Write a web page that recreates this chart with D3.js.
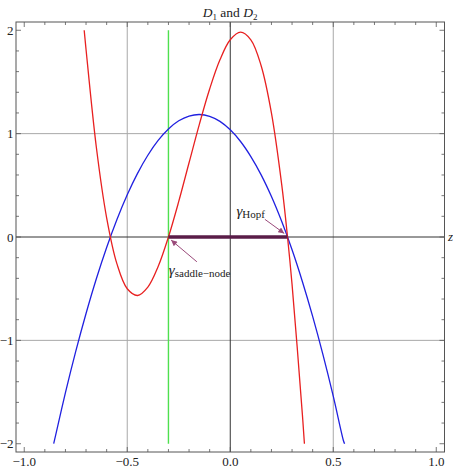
<!DOCTYPE html>
<html><head><meta charset="utf-8">
<script src="https://cdn.jsdelivr.net/npm/d3@7"></script>
<style>body{margin:0;background:#fff}svg{display:block}text{font-family:"Liberation Serif","Times New Roman",Times,serif}</style>
</head><body>
<script>
// Data
const redZ = [-0.709,-0.70,-0.65,-0.60,-0.55,-0.50,-0.45,-0.40,-0.35,-0.30,-0.25,-0.20,-0.15,-0.10,-0.05,0.00,0.05,0.10,0.15,0.20,0.25,0.278,0.30,0.35,0.36];
const redY = [2.0,1.814,0.868,0.186,-0.260,-0.501,-0.566,-0.485,-0.286,0.0,0.344,0.718,1.090,1.432,1.714,1.908,1.982,1.908,1.657,1.199,0.504,0.0,-0.458,-1.714,-2.0];
const blueZ = [-0.857,-0.85,-0.80,-0.75,-0.70,-0.65,-0.60,-0.55,-0.50,-0.45,-0.40,-0.35,-0.30,-0.25,-0.20,-0.15,-0.10,-0.05,0.00,0.05,0.10,0.15,0.20,0.25,0.30,0.35,0.40,0.45,0.50,0.55,0.555];
const blueY = [-2.0,-1.938,-1.506,-1.107,-0.740,-0.404,-0.101,0.170,0.409,0.616,0.791,0.934,1.045,1.124,1.170,1.185,1.168,1.119,1.037,0.924,0.778,0.601,0.391,0.149,-0.124,-0.430,-0.768,-1.138,-1.540,-1.974,-2.0];
const greenZ = [-0.3,-0.3];
const greenY = [-2,2];
const segZ = [-0.3,0.278];
const segY = [0,0];
const xTicks = [-1.0,-0.5,0.0,0.5,1.0];
const xTickLabels = ["\u22121.0","\u22120.5","0.0","0.5","1.0"];
const yTicks = [-2,-1,0,1,2];
const yTickLabels = ["\u22122","\u22121","0","1","2"];
const xMinor = d3.range(-10,11).map(i=>i/10);
const yMinor = d3.range(-10,11).map(i=>i/5);
const gridX = [-0.5,0.5];
const gridY = [-1,1];

const W=453,H=471;
const svg=d3.select("body").append("svg").attr("width",W).attr("height",H);
const x=d3.scaleLinear().domain([-1.04,1.04]).range([16,444.5]);
const y=d3.scaleLinear().domain([-2.08,2.08]).range([452,22]);

// grid
svg.selectAll(".gx").data(gridX).join("line").attr("x1",d=>x(d)).attr("x2",d=>x(d)).attr("y1",y(2.08)).attr("y2",y(-2.08)).attr("stroke","#a8a8a8").attr("stroke-width",1);
svg.selectAll(".gy").data(gridY).join("line").attr("y1",d=>y(d)).attr("y2",d=>y(d)).attr("x1",x(-1.04)).attr("x2",x(1.04)).attr("stroke","#a8a8a8").attr("stroke-width",1);
// axes lines
svg.append("line").attr("x1",x(0)).attr("x2",x(0)).attr("y1",y(2.08)).attr("y2",y(-2.08)).attr("stroke","#333").attr("stroke-width",1);
svg.append("line").attr("y1",y(0)).attr("y2",y(0)).attr("x1",x(-1.04)).attr("x2",x(1.04)).attr("stroke","#333").attr("stroke-width",1);

// curves
const line=d3.line().x(d=>x(d[0])).y(d=>y(d[1])).curve(d3.curveCatmullRom.alpha(0.5));
svg.append("path").datum(greenZ.map((z,i)=>[z,greenY[i]])).attr("d",d3.line().x(d=>x(d[0])).y(d=>y(d[1]))).attr("stroke","#4ee04e").attr("stroke-width",1.4).attr("fill","none");
svg.append("path").datum(blueZ.map((z,i)=>[z,blueY[i]])).attr("d",line).attr("stroke","#2020e0").attr("stroke-width",1.3).attr("fill","none");
svg.append("path").datum(redZ.map((z,i)=>[z,redY[i]])).attr("d",line).attr("stroke","#e82020").attr("stroke-width",1.3).attr("fill","none");
svg.append("path").datum(segZ.map((z,i)=>[z,segY[i]])).attr("d",d3.line().x(d=>x(d[0])).y(d=>y(d[1]))).attr("stroke","#5a1d48").attr("stroke-width",3.5).attr("fill","none");

// frame
svg.append("rect").attr("x",x(-1.04)).attr("y",y(2.08)).attr("width",x(1.04)-x(-1.04)).attr("height",y(-2.08)-y(2.08)).attr("fill","none").attr("stroke","#555").attr("stroke-width",1);
// ticks
const tk=svg.append("g").attr("stroke","#555").attr("stroke-width",0.8);
const isMajX=v=>xTicks.some(t=>Math.abs(t-v)<1e-6);
const isMajY=v=>yTicks.some(t=>Math.abs(t-v)<1e-6);
xMinor.forEach(v=>{const L=isMajX(v)?5:3;
  tk.append("line").attr("x1",x(v)).attr("x2",x(v)).attr("y1",y(-2.08)).attr("y2",y(-2.08)-L);
  tk.append("line").attr("x1",x(v)).attr("x2",x(v)).attr("y1",y(2.08)).attr("y2",y(2.08)+L);});
yMinor.forEach(v=>{const L=isMajY(v)?5:3;
  tk.append("line").attr("y1",y(v)).attr("y2",y(v)).attr("x1",x(-1.04)).attr("x2",x(-1.04)+L);
  tk.append("line").attr("y1",y(v)).attr("y2",y(v)).attr("x1",x(1.04)).attr("x2",x(1.04)-L);});
// tick labels
svg.selectAll(".xl").data(xTicks).join("text").attr("x",d=>x(d)).attr("y",466).attr("text-anchor","middle").attr("font-size",13).attr("fill","#222").text((d,i)=>xTickLabels[i]);
svg.selectAll(".yl").data(yTicks).join("text").attr("x",13.5).attr("y",d=>y(d)+4.5).attr("text-anchor","end").attr("font-size",13).attr("fill","#222").text((d,i)=>yTickLabels[i]);

// title
const t=svg.append("text").attr("x",230).attr("y",17).attr("text-anchor","middle").attr("font-size",13.5).attr("fill","#222");
t.append("tspan").attr("font-style","italic").text("D");
t.append("tspan").attr("font-size",9).attr("dy",3).text("1");
t.append("tspan").attr("dy",-3).text(" and ");
t.append("tspan").attr("font-style","italic").text("D");
t.append("tspan").attr("font-size",9).attr("dy",3).text("2");
// z label
svg.append("text").attr("x",448).attr("y",241).attr("font-style","italic").attr("font-size",13).attr("fill","#222").text("z");

// arrows
const defs=svg.append("defs");
defs.append("marker").attr("id","ah").attr("viewBox","0 0 10 10").attr("refX",10).attr("refY",5).attr("markerWidth",7).attr("markerHeight",6).attr("orient","auto").attr("markerUnits","userSpaceOnUse")
  .append("path").attr("d","M0,0L10,5L0,10z").attr("fill","#9a4a7a");
const arrows=[[[0.168,0.171],[0.262,0.035]],[[-0.162,-0.24],[-0.287,-0.03]]];
arrows.forEach(a=>svg.append("line").attr("x1",x(a[0][0])).attr("y1",y(a[0][1])).attr("x2",x(a[1][0])).attr("y2",y(a[1][1])).attr("stroke","#9a4a7a").attr("stroke-width",1).attr("marker-end","url(#ah)"));

// labels
function glabel(zx,zy,sub){
  const g=svg.append("text").attr("x",x(zx)).attr("y",y(zy)).attr("font-size",15).attr("fill","#222");
  g.append("tspan").attr("font-style","italic").text("\u03b3");
  g.append("tspan").attr("font-size",11).attr("dy",2).text(sub);
}
glabel(0.03,0.2,"Hopf");
glabel(-0.298,-0.37,"saddle\u2212node");
</script>
</body></html>
